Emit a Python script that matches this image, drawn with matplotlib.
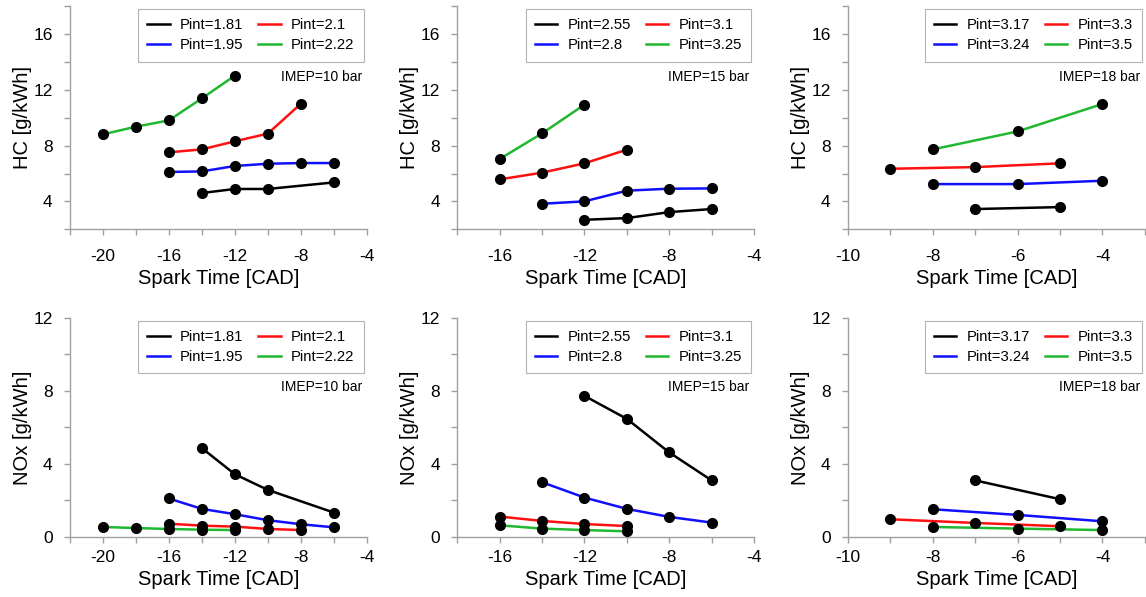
import numpy as np
import matplotlib
matplotlib.use("Agg")
import matplotlib.pyplot as plt
from matplotlib.ticker import MultipleLocator

# ---- data ----
# IMEP = 10 bar
hc10_x = {
    "1.81": [-14, -12, -10, -6],
    "1.95": [-16, -14, -12, -10, -8, -6],
    "2.1": [-16, -14, -12, -10, -8],
    "2.22": [-20, -18, -16, -14, -12],
}
hc10_y = {
    "1.81": [4.60, 4.89, 4.89, 5.36],
    "1.95": [6.11, 6.15, 6.54, 6.70, 6.75, 6.75],
    "2.1": [7.52, 7.73, 8.31, 8.86, 11.0],
    "2.22": [8.81, 9.36, 9.81, 11.39, 13.02],
}
nox10_x = {
    "1.81": [-14, -12, -10, -6],
    "1.95": [-16, -14, -12, -10, -8, -6],
    "2.1": [-16, -14, -12, -10, -8],
    "2.22": [-20, -18, -16, -14, -12],
}
nox10_y = {
    "1.81": [4.87, 3.44, 2.58, 1.34],
    "1.95": [2.11, 1.54, 1.25, 0.92, 0.70, 0.53],
    "2.1": [0.73, 0.62, 0.57, 0.44, 0.38],
    "2.22": [0.55, 0.49, 0.44, 0.40, 0.38],
}

# IMEP = 15 bar
hc15_x = {
    "2.55": [-12, -10, -8, -6],
    "2.8": [-14, -12, -10, -8, -6],
    "3.1": [-16, -14, -12, -10],
    "3.25": [-16, -14, -12],
}
hc15_y = {
    "2.55": [2.68, 2.80, 3.23, 3.45],
    "2.8": [3.83, 4.00, 4.77, 4.91, 4.93],
    "3.1": [5.58, 6.06, 6.73, 7.71],
    "3.25": [7.04, 8.88, 10.94],
}
nox15_x = {
    "2.55": [-12, -10, -8, -6],
    "2.8": [-14, -12, -10, -8, -6],
    "3.1": [-16, -14, -12, -10],
    "3.25": [-16, -14, -12, -10],
}
nox15_y = {
    "2.55": [7.73, 6.47, 4.63, 3.10],
    "2.8": [3.00, 2.16, 1.54, 1.10, 0.79],
    "3.1": [1.12, 0.88, 0.71, 0.60],
    "3.25": [0.64, 0.46, 0.38, 0.31],
}

# IMEP = 18 bar
hc18_x = {
    "3.17": [-7, -5],
    "3.24": [-8, -6, -4],
    "3.3": [-9, -7, -5],
    "3.5": [-8, -6, -4],
}
hc18_y = {
    "3.17": [3.45, 3.59],
    "3.24": [5.24, 5.24, 5.48],
    "3.3": [6.34, 6.46, 6.73],
    "3.5": [7.73, 9.02, 10.99],
}
nox18_x = {
    "3.17": [-7, -5],
    "3.24": [-8, -6, -4],
    "3.3": [-9, -7, -5],
    "3.5": [-8, -6, -4],
}
nox18_y = {
    "3.17": [3.10, 2.07],
    "3.24": [1.52, 1.21, 0.86],
    "3.3": [0.97, 0.77, 0.59],
    "3.5": [0.55, 0.46, 0.38],
}

colors = ["black", "#1010ff", "#ff1010", "#20b830"]
imep_labels = ["IMEP=10 bar", "IMEP=15 bar", "IMEP=18 bar"]
xlims = [(-22, -4), (-18, -4), (-10, -3)]
x_major = [4, 4, 2]
x_minor = [2, 2, 1]

plt.rcParams["font.family"] = ["Liberation Sans", "DejaVu Sans"]
plt.rcParams["axes.unicode_minus"] = False

fig = plt.figure(figsize=(11.46, 5.97), dpi=100)

lefts = [0.061, 0.399, 0.740]
width = 0.259
rows = [(0.616, 0.3735), (0.1005, 0.367)]
xpads = [10, 5]

hc_sets = [(hc10_x, hc10_y), (hc15_x, hc15_y), (hc18_x, hc18_y)]
nox_sets = [(nox10_x, nox10_y), (nox15_x, nox15_y), (nox18_x, nox18_y)]


def style_axes(ax, col, ylim, ymaj, ymin, xpad):
    for side in ["top", "right"]:
        ax.spines[side].set_visible(False)
    for side in ["left", "bottom"]:
        ax.spines[side].set_color("#a0a0a0")
        ax.spines[side].set_linewidth(1.0)
    ax.set_xlim(*xlims[col])
    ax.set_ylim(*ylim)
    ax.xaxis.set_major_locator(MultipleLocator(x_major[col]))
    ax.xaxis.set_minor_locator(MultipleLocator(x_minor[col]))
    ax.yaxis.set_major_locator(MultipleLocator(ymaj))
    ax.yaxis.set_minor_locator(MultipleLocator(ymin))
    ax.tick_params(which="both", direction="out", color="#a0a0a0",
                   length=4, width=1.0, labelsize=12.5)
    ax.tick_params(axis="x", pad=xpad)
    ax.tick_params(axis="y", pad=8.5)
    ax.set_xlabel("Spark Time [CAD]", fontsize=14.5, labelpad=4)


for row, (sets, ylab, ylim, ymaj) in enumerate([
        (hc_sets, "HC [g/kWh]", (2, 18), 4),
        (nox_sets, "NOx [g/kWh]", (0, 12), 4)]):
    for col in range(3):
        ax = fig.add_axes([lefts[col], rows[row][0], width, rows[row][1]])
        xs, ys = sets[col]
        for key, c in zip(xs.keys(), colors):
            ax.plot(xs[key], ys[key], color=c, lw=1.8, label="Pint=" + key,
                    zorder=2)
            ax.plot(xs[key], ys[key], "o", color="black", ms=7, zorder=3)
        style_axes(ax, col, ylim, ymaj, ymaj / 2, xpads[row])
        ax.set_ylabel(ylab, fontsize=14.5, labelpad=1)
        leg = ax.legend(ncol=2, loc="upper right", fontsize=10.7,
                        frameon=True, fancybox=False, borderaxespad=0.2,
                        handlelength=1.5, columnspacing=1.0,
                        handletextpad=0.7, labelspacing=0.4,
                        borderpad=0.62)
        leg.get_frame().set_edgecolor("#a0a0a0")
        leg.get_frame().set_linewidth(0.8)
        ax.text(0.985, 0.685, imep_labels[col], transform=ax.transAxes,
                ha="right", va="center", fontsize=10)

fig.savefig("out.png", dpi=100)
